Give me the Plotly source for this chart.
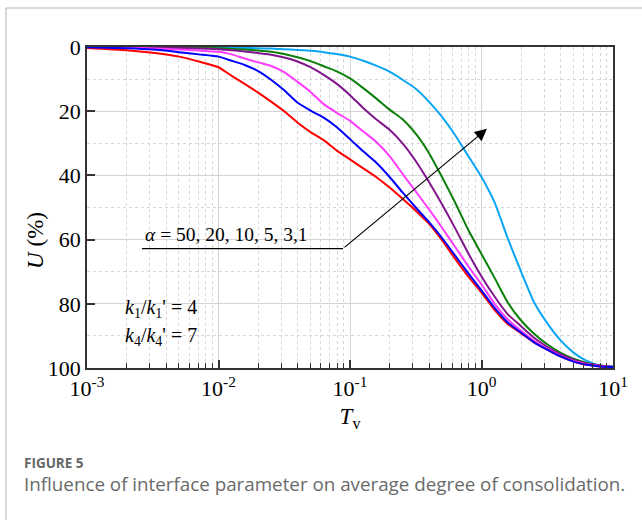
import math
import plotly.graph_objects as go

# Time factor Tv (shared grid)
tv = [0.001, 0.002, 0.00316, 0.005, 0.00708, 0.01, 0.0126, 0.0158, 0.02, 0.0251,
      0.0316, 0.0398, 0.0501, 0.0631, 0.0794, 0.1, 0.126, 0.158, 0.2, 0.251,
      0.316, 0.398, 0.501, 0.631, 0.794, 1.0, 1.26, 1.58, 2.0, 2.51,
      3.16, 3.98, 5.01, 6.31, 7.94, 10.0]

u_a50 = [0.3, 1.0, 1.8, 3.0, 4.5, 6.3, 9.0, 11.5, 14.2, 17.0, 20.0, 23.5, 26.5, 29.0,
         32.3, 35.0, 37.8, 40.5, 43.8, 47.3, 51.0, 55.0, 60.2, 66.0, 71.5, 76.5, 82.0,
         86.3, 89.2, 92.0, 94.3, 96.4, 98.0, 99.0, 99.5, 99.7]
u_a20 = [0.1, 0.4, 0.8, 1.6, 2.3, 3.0, 4.3, 5.6, 7.5, 10.2, 13.5, 17.3, 19.8, 22.0,
         25.0, 28.7, 32.5, 36.0, 40.5, 45.3, 50.0, 54.5, 59.5, 65.0, 70.5, 75.8, 81.3,
         85.8, 89.0, 92.0, 94.3, 96.4, 98.0, 99.0, 99.5, 99.7]
u_a10 = [0.0, 0.2, 0.5, 0.8, 1.1, 1.5, 2.3, 3.6, 4.8, 5.9, 7.8, 10.8, 14.0, 17.8,
         20.5, 23.0, 26.3, 29.5, 34.0, 39.5, 45.0, 50.5, 56.3, 62.3, 68.3, 74.0, 80.0,
         84.8, 88.4, 91.5, 94.0, 96.2, 97.8, 98.8, 99.4, 99.7]
u_a5 = [0.0, 0.1, 0.2, 0.3, 0.45, 0.7, 1.0, 1.4, 1.9, 2.4, 3.3, 4.5, 6.3, 8.7,
        11.5, 15.0, 19.0, 22.5, 25.8, 30.0, 35.5, 42.0, 49.0, 56.5, 64.3, 71.5, 77.8,
        83.2, 87.0, 90.6, 93.4, 95.7, 97.4, 98.6, 99.2, 99.6]
u_a3 = [0.0, 0.05, 0.1, 0.2, 0.3, 0.4, 0.6, 0.8, 1.1, 1.5, 2.2, 3.2, 4.4, 6.0,
        7.6, 9.8, 12.8, 16.0, 19.5, 22.5, 27.0, 33.0, 40.5, 48.5, 57.0, 64.5, 72.0,
        79.5, 85.2, 89.3, 92.6, 95.2, 97.1, 98.4, 99.2, 99.6]
u_a1 = [0.0, 0.0, 0.05, 0.1, 0.1, 0.1, 0.2, 0.3, 0.4, 0.5, 0.7, 0.9, 1.2, 1.6,
        2.2, 3.0, 4.3, 5.8, 7.7, 10.2, 13.0, 17.0, 21.8, 27.5, 34.0, 40.5, 48.5,
        59.5, 70.0, 79.5, 86.0, 91.3, 95.2, 97.8, 99.2, 99.6]

series_names = ["α=1", "α=3", "α=5", "α=10", "α=50", "α=20"]
series_vals = [u_a1, u_a3, u_a5, u_a10, u_a50, u_a20]
series_colors = ["#0AA6F5", "#0A7F0A", "#80168C", "#FF3CFF", "#FF0000", "#0000FF"]

x_major = [0.001, 0.01, 0.1, 1, 10]
x_major_text = ["10<sup>-3</sup>", "10<sup>-2</sup>", "10<sup>-1</sup>", "10<sup>0</sup>", "10<sup>1</sup>"]
x_minor = [m * d for d in [0.001, 0.01, 0.1, 1] for m in range(2, 10)]
y_major = [0, 20, 40, 60, 80, 100]

# pointer line (label underline) and arrow, in data units
pointer_tv = [0.00262, 0.0885]
pointer_u = [62.8, 62.8]
arrow_tail = (0.0885, 62.8)
arrow_head = (1.10, 25.5)

SERIF = "Liberation Serif"

fig = go.Figure()
for name, vals, col in zip(series_names, series_vals, series_colors):
    fig.add_trace(go.Scatter(x=tv, y=vals, mode="lines", name=name,
                             line=dict(color=col, width=2, shape="spline", smoothing=0.5),
                             showlegend=False))

fig.add_trace(go.Scatter(x=pointer_tv, y=pointer_u, mode="lines",
                         line=dict(color="black", width=1.2), showlegend=False))

fig.add_annotation(x=math.log10(arrow_head[0]), y=arrow_head[1],
                   ax=math.log10(arrow_tail[0]), ay=arrow_tail[1],
                   xref="x", yref="y", axref="x", ayref="y",
                   showarrow=True, arrowhead=2, arrowsize=2.0, arrowwidth=1.2,
                   arrowcolor="black", text="")

fig.add_annotation(x=math.log10(0.00265), y=58.3, xref="x", yref="y",
                   text="<i>α</i> = 50, 20, 10, 5, 3,1", showarrow=False,
                   xanchor="left", yanchor="middle",
                   font=dict(family=SERIF, size=19.5, color="black"))
fig.add_annotation(x=math.log10(0.00187), y=81.5, xref="x", yref="y",
                   text="<i>k</i><sub>1</sub>/<i>k</i><sub>1</sub>' = 4", showarrow=False,
                   xanchor="left", yanchor="middle",
                   font=dict(family=SERIF, size=20, color="black"))
fig.add_annotation(x=math.log10(0.00187), y=90.3, xref="x", yref="y",
                   text="<i>k</i><sub>4</sub>/<i>k</i><sub>4</sub>' = 7", showarrow=False,
                   xanchor="left", yanchor="middle",
                   font=dict(family=SERIF, size=20, color="black"))

# y-axis title placed explicitly
fig.add_annotation(x=-0.097, y=0.399, xref="paper", yref="paper",
                   text="<i>U</i> (%)", showarrow=False, textangle=-90,
                   xanchor="center", yanchor="middle",
                   font=dict(family=SERIF, size=23, color="black"))

# caption
fig.add_annotation(x=-0.1236, y=-0.296, xref="paper", yref="paper",
                   text="<b>FIGURE 5</b>", showarrow=False, xanchor="left", yanchor="middle",
                   font=dict(family="Open Sans", size=13.5, color="#666666"))
fig.add_annotation(x=-0.1236, y=-0.361, xref="paper", yref="paper",
                   text="Influence of interface parameter on average degree of consolidation.",
                   showarrow=False, xanchor="left", yanchor="middle",
                   font=dict(family="Open Sans", size=18.8, color="#6a6a6a"))

# outer frame (top and left edge)
fig.add_shape(type="line", xref="paper", yref="paper", x0=-0.154, x1=1.2, y0=1.1215, y1=1.1215,
              line=dict(color="#cccccc", width=1.5))
fig.add_shape(type="line", xref="paper", yref="paper", x0=-0.154, x1=-0.154, y0=1.1215, y1=-0.6,
              line=dict(color="#cccccc", width=1.5))

fig.update_xaxes(type="log", range=[-3, 1], tickvals=x_major, ticktext=x_major_text,
                 ticks="inside", ticklen=8, tickwidth=1.5, tickcolor="#333333",
                 showline=True, linecolor="#333333", linewidth=1.8, mirror=True,
                 showgrid=True, gridcolor="#d4d4d4", gridwidth=1, zeroline=False,
                 tickfont=dict(family=SERIF, size=22, color="black"),
                 title=dict(text="<i>T</i><sub>v</sub>", font=dict(family=SERIF, size=23, color="black"),
                            standoff=8),
                 minor=dict(tickvals=x_minor, ticks="inside", ticklen=5, tickwidth=1,
                            tickcolor="#333333", showgrid=True, gridcolor="#d6d6d6",
                            griddash="dot", gridwidth=1))
fig.update_yaxes(range=[100, 0], tickvals=y_major,
                 ticks="inside", ticklen=8, tickwidth=1.5, tickcolor="#333333",
                 showline=True, linecolor="#333333", linewidth=1.8, mirror=True,
                 showgrid=True, gridcolor="#d4d4d4", gridwidth=1, zeroline=False,
                 tickfont=dict(family=SERIF, size=22, color="black"),
                 minor=dict(dtick=10, ticks="", showgrid=True, gridcolor="#d6d6d6",
                            griddash="dot", gridwidth=1))

fig.update_layout(width=642, height=520, margin=dict(l=87, r=29, t=47, b=152),
                  paper_bgcolor="white", plot_bgcolor="white", showlegend=False)

fig.write_html("out.html")
